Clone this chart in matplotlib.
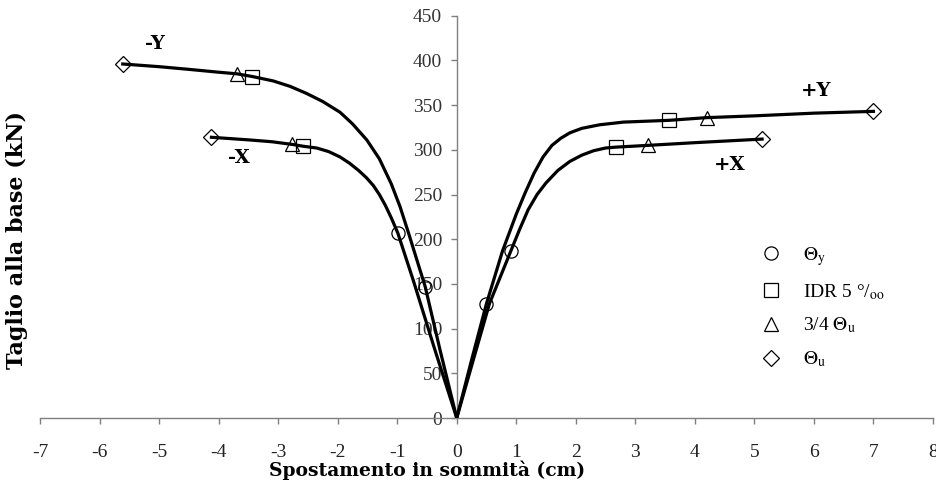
import matplotlib
matplotlib.use("Agg")
import matplotlib.pyplot as plt

plt.rcParams['font.family'] = ['Liberation Serif', 'DejaVu Serif']
plt.rcParams['mathtext.fontset'] = 'stix'
plt.rcParams['axes.unicode_minus'] = False

# pushover curves: top displacement (cm) vs base shear (kN)
py_x = [0, 0.25, 0.50, 0.77, 1.00, 1.15, 1.30, 1.45, 1.60, 1.75, 1.90, 2.10, 2.40, 2.80, 3.57, 4.20,
        5.00, 6.00, 7.00]
py_y = [0, 65, 128, 187, 228, 252, 274, 292, 305, 313, 319, 324, 328, 331, 333, 336, 338, 341, 343]

px_x = [0, 0.30, 0.55, 0.91, 1.05, 1.20, 1.35, 1.50, 1.70, 1.90, 2.10, 2.30, 2.50, 2.67, 3.22, 4.00, 5.13]
px_y = [0, 70, 128, 187, 210, 233, 250, 263, 277, 287, 294, 299, 302, 303, 305, 308, 312]

my_x = [0, -0.28, -0.53, -0.81, -0.95, -1.10, -1.30, -1.51, -1.75, -1.96, -2.25, -2.52, -2.80, -3.08,
        -3.435, -3.69, -4.03, -4.50, -5.00, -5.61]
my_y = [0, 76, 147, 207, 236, 262, 290, 311, 329, 342, 354, 363, 371, 377, 382, 385, 387, 390, 393, 396]

mx_x = [0, -0.37, -0.73, -0.99, -1.10, -1.20, -1.30, -1.40, -1.52, -1.65, -1.80, -1.96, -2.15, -2.35,
        -2.58, -2.76, -3.10, -3.47, -4.12]
mx_y = [0, 77, 154, 207, 224, 238, 250, 260, 269, 277, 285, 292, 298, 302, 304, 306, 309, 311, 314]

# limit states, order: +Y, +X, -Y, -X
thy_x = [0.50, 0.91, -0.53, -0.99]
thy_y = [128, 187, 147, 207]
idr_x = [3.57, 2.67, -3.435, -2.58]
idr_y = [333, 303, 382, 304]
tq_x = [4.20, 3.22, -3.69, -2.76]
tq_y = [336, 305, 385, 306]
thu_x = [7.00, 5.13, -5.61, -4.12]
thu_y = [343, 312, 396, 314]

fig = plt.figure(figsize=(9.37, 4.99), dpi=100)
ax = fig.add_axes([0.0427, 0.1623, 0.9530, 0.8062])

for cx, cy in [(py_x, py_y), (px_x, px_y), (my_x, my_y), (mx_x, mx_y)]:
    ax.plot(cx, cy, color='black', lw=2.3, solid_joinstyle='round', zorder=3)

mk = dict(ls='none', color='black', mfc='none', mew=0.9, zorder=4)
ax.plot(thy_x, thy_y, marker='o', ms=9.5, label=r'$\Theta_\mathrm{y}$', **mk)
ax.plot(idr_x, idr_y, marker='s', ms=10, label=r'IDR 5 °/$_\mathrm{oo}$', **mk)
ax.plot(tq_x, tq_y, marker='^', ms=10.5, label=r'3/4 $\Theta_\mathrm{u}$', **mk)
ax.plot(thu_x, thu_y, marker='D', ms=8.5, label=r'$\Theta_\mathrm{u}$', **mk)

lbl = dict(fontsize=14, fontweight='bold', ha='center', va='center',
           family=['DejaVu Serif'])
ax.text(-5.07, 418, '-Y', **lbl)
ax.text(-3.66, 291, '-X', **lbl)
ax.text(6.04, 366, '+Y', **lbl)
ax.text(4.58, 283, '+X', **lbl)

ax.set_xlim(-7, 8)
ax.set_ylim(0, 450)
ax.set_xticks(range(-7, 9))
ax.set_yticks(range(0, 451, 50))

for s in ['top', 'right']:
    ax.spines[s].set_visible(False)
ax.spines['left'].set_position(('data', 0))
for s in ['left', 'bottom']:
    ax.spines[s].set_color('#7f7f7f')
    ax.spines[s].set_linewidth(1.0)

ax.tick_params(axis='x', direction='out', length=4.5, width=1, color='#7f7f7f',
               labelsize=14, pad=14, labelcolor='#222222')
ax.tick_params(axis='y', direction='out', length=4.5, width=1, color='#7f7f7f',
               labelsize=14, pad=6, labelcolor='#333333')

leg = ax.legend(loc='upper left', bbox_to_anchor=(0.808, 0.430), frameon=False,
                fontsize=14, handlelength=1.0, handletextpad=1.15, borderpad=0,
                borderaxespad=0, labelspacing=0.72, numpoints=1)

fig.text(427 / 937, 1 - 470 / 499, 'Spostamento in sommità (cm)', ha='center', va='center',
         fontsize=13.5, fontweight='bold', family=['DejaVu Serif'])
fig.text(17 / 937, 1 - 240 / 499, 'Taglio alla base (kN)', ha='center', va='center',
         rotation=90, fontsize=16, fontweight='bold', family=['DejaVu Serif'])

fig.savefig('out.png', dpi=100)
